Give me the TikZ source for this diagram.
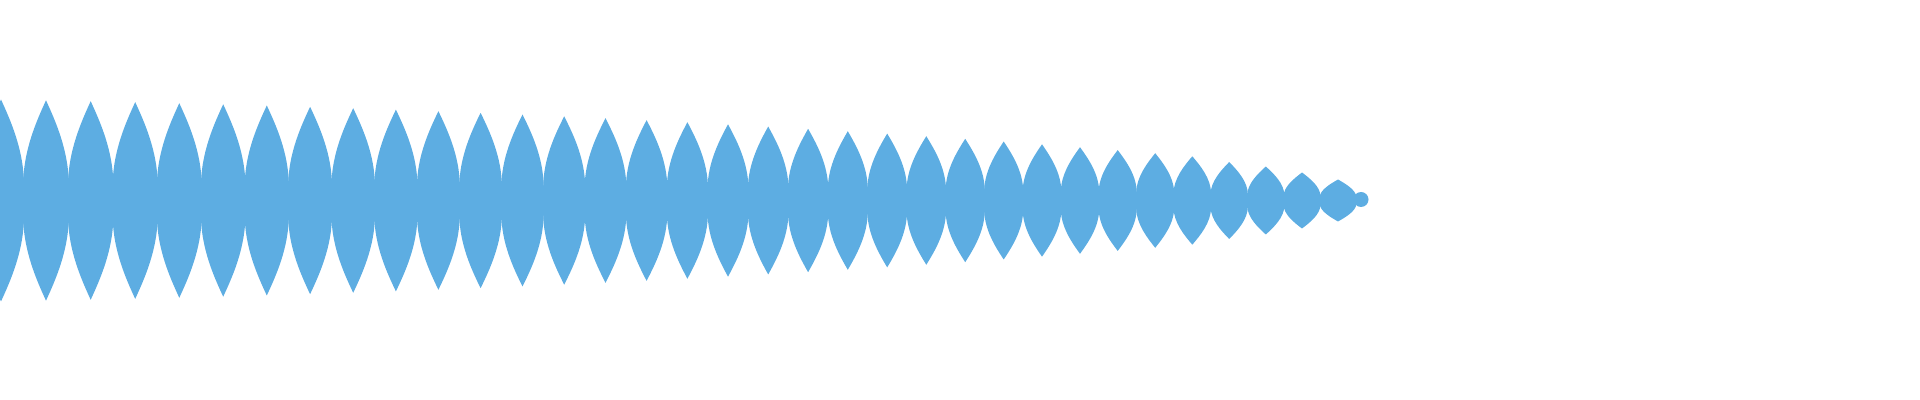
\documentclass[tikz,border=0pt]{standalone}
\begin{document}
\begin{tikzpicture}[x=0.5pt,y=-0.5pt]
\definecolor{wave}{HTML}{5DADE2}
\tikzset{lens/.style={fill=wave,draw=none}}
\useasboundingbox (0,0) rectangle (1920,400);
\clip (0,0) rectangle (1920,400);
\def\yc{200.5}
\foreach \xc/\h in {1/101,46/100.2,90.7/99.3,135.2/98.4,179.3/97.3,223.2/96.2,266.8/95,310.1/93.7,353.2/92.3,395.9/90.9,438.4/89.3,480.6/87.7,522.5/86,564.2/84.2,605.5/82.3,646.6/80.4,687.4/78.3,728/76.2,768.2/74,808.1/71.7,847.8/69.3,887.2/66.9,926.3/64.3,965.2/61.7,1003.7/59,1042/56.2,1080/53.3,1117.7/50.4,1155.2/47.3,1192.3/44.2,1229.2/38.5,1265.8/34,1302/28,1338/21}{
  \pgfmathsetmacro{\s}{23-0.28*(\xc/40)/2}
  \pgfmathsetmacro{\b}{0.15*\h}
  \fill[lens] (\xc,\yc-\h)
    .. controls (\xc+0.4*\s,\yc-0.8*\h) and (\xc+\s,\yc-0.5*\h) .. (\xc+\s,\yc-\b)
    -- (\xc+\s,\yc+\b)
    .. controls (\xc+\s,\yc+0.5*\h) and (\xc+0.4*\s,\yc+0.8*\h) .. (\xc,\yc+\h)
    .. controls (\xc-0.4*\s,\yc+0.8*\h) and (\xc-\s,\yc+0.5*\h) .. (\xc-\s,\yc+\b)
    -- (\xc-\s,\yc-\b)
    .. controls (\xc-\s,\yc-0.5*\h) and (\xc-0.4*\s,\yc-0.8*\h) .. cycle;
}
\fill[lens] (1361,199.5) circle (7.5);
\end{tikzpicture}
\end{document}
